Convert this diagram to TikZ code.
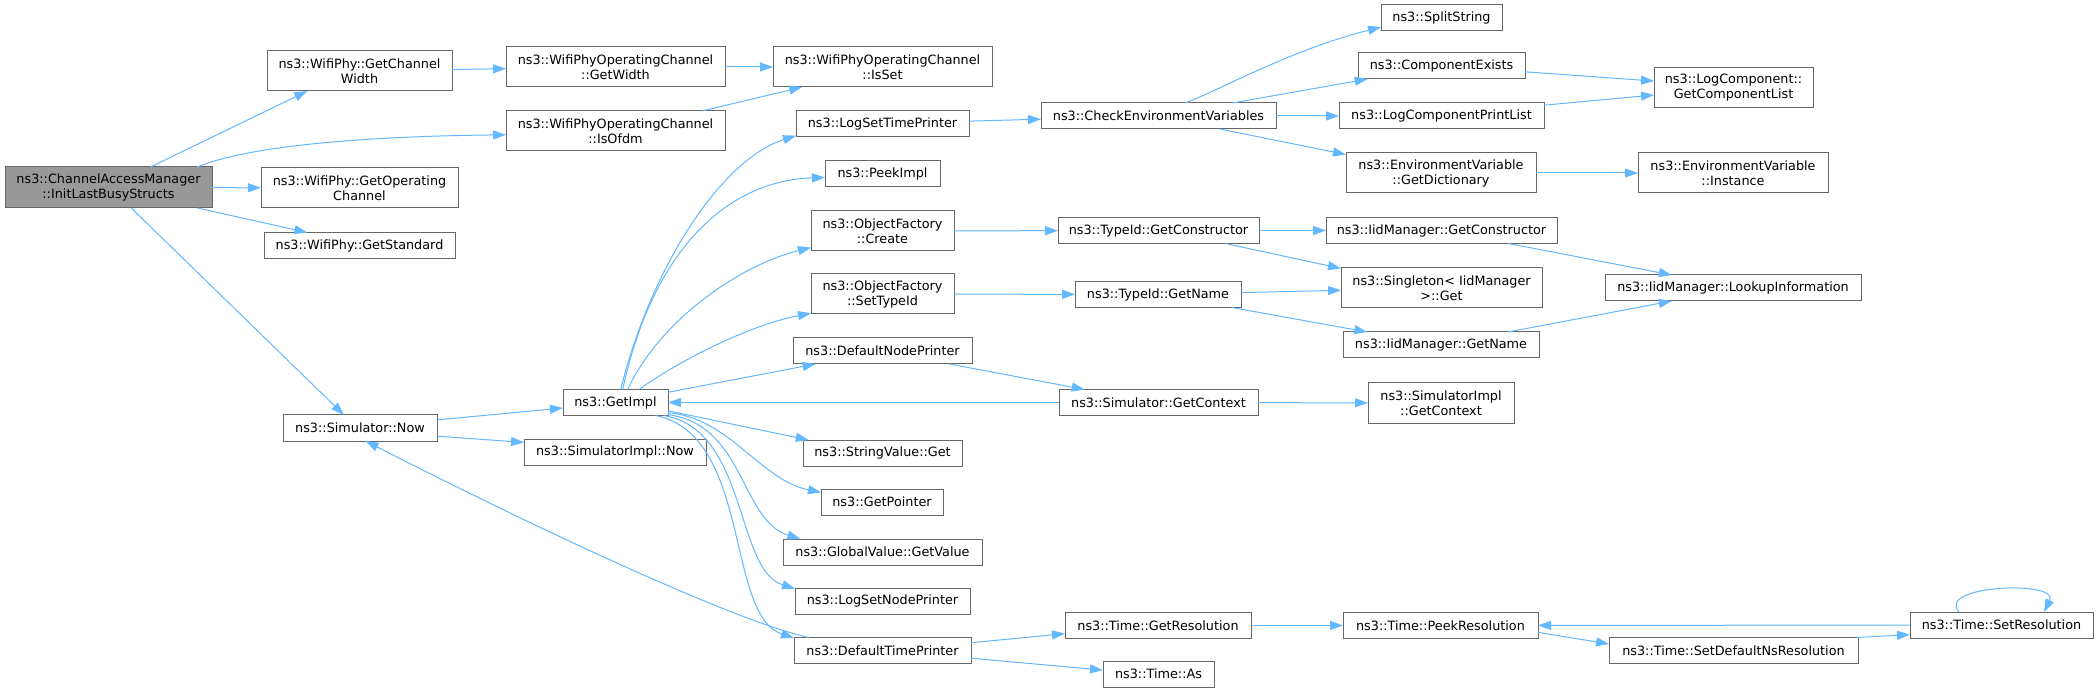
\documentclass[tikz,border=0pt]{standalone}
\usepackage{fontspec}
\setmainfont{DejaVu Sans}
\usetikzlibrary{arrows.meta}
\definecolor{callc}{HTML}{63B8FF}
\definecolor{frame}{HTML}{666666}
\definecolor{rootbg}{HTML}{999999}
\tikzset{
  fn/.style={draw=frame, fill=white, line width=1pt, inner sep=0pt, outer sep=0pt, align=center, font=\fontsize{12.8}{15}\selectfont, minimum height=26},
  fn2/.style={fn, minimum height=40},
  rootfn/.style={fn2, fill=rootbg, minimum height=41},
  call/.style={draw=callc, line width=1pt, -{Triangle[length=13pt,width=9pt]}},
}
\begin{document}
\begin{tikzpicture}[x=1pt, y=-1pt]
  \useasboundingbox[fill=white] (0,0) rectangle (2099,692);

  \node[rootfn, minimum width=207] (root) at (108.5,187.5) {ns3::ChannelAccessManager\\::InitLastBusyStructs};
  \node[fn2, minimum width=185] (chw) at (359.5,71) {ns3::WifiPhy::GetChannel\\Width};
  \node[fn2, minimum width=197] (opch) at (359.5,188) {ns3::WifiPhy::GetOperating\\Channel};
  \node[fn, minimum width=191] (std) at (359.5,245.5) {ns3::WifiPhy::GetStandard};
  \node[fn, minimum width=154] (snow) at (360,428) {ns3::Simulator::Now};
  \node[fn2, minimum width=219] (wocw) at (615.5,67) {ns3::WifiPhyOperatingChannel\\::GetWidth};
  \node[fn2, minimum width=219] (ofdm) at (615.5,131) {ns3::WifiPhyOperatingChannel\\::IsOfdm};
  \node[fn, minimum width=105] (gimpl) at (615.5,402.5) {ns3::GetImpl};
  \node[fn, minimum width=182] (sinow) at (615,452) {ns3::SimulatorImpl::Now};

  \node[fn2, minimum width=219] (isset) at (882.5,67) {ns3::WifiPhyOperatingChannel\\::IsSet};
  \node[fn, minimum width=173] (lstp) at (882.5,123.5) {ns3::LogSetTimePrinter};
  \node[fn, minimum width=115] (peek) at (882.5,173.5) {ns3::PeekImpl};
  \node[fn2, minimum width=143] (ofc) at (882.5,231) {ns3::ObjectFactory\\::Create};
  \node[fn2, minimum width=143] (ofs) at (882.5,294) {ns3::ObjectFactory\\::SetTypeId};
  \node[fn, minimum width=179] (dnp) at (882.5,351) {ns3::DefaultNodePrinter};
  \node[fn, minimum width=159] (svg) at (882.5,453) {ns3::StringValue::Get};
  \node[fn, minimum width=122] (gp) at (882,502) {ns3::GetPointer};
  \node[fn, minimum width=199] (gv) at (882.5,552) {ns3::GlobalValue::GetValue};
  \node[fn, minimum width=175] (lsnp) at (882.5,601) {ns3::LogSetNodePrinter};
  \node[fn, minimum width=177] (dtp) at (882.5,650.5) {ns3::DefaultTimePrinter};

  \node[fn, minimum width=235] (cev) at (1158.5,116) {ns3::CheckEnvironmentVariables};
  \node[fn, minimum width=201] (tgc) at (1158.5,230.5) {ns3::TypeId::GetConstructor};
  \node[fn, minimum width=166] (tgn) at (1158,294.5) {ns3::TypeId::GetName};
  \node[fn, minimum width=199] (sgc) at (1158.5,402.5) {ns3::Simulator::GetContext};
  \node[fn, minimum width=186] (tgr) at (1158,625.5) {ns3::Time::GetResolution};
  \node[fn, minimum width=111] (tas) at (1158.5,674) {ns3::Time::As};

  \node[fn, minimum width=121] (split) at (1441.5,17.5) {ns3::SplitString};
  \node[fn, minimum width=167] (cex) at (1441.5,66) {ns3::ComponentExists};
  \node[fn, minimum width=205] (lcpl) at (1441.5,116) {ns3::LogComponentPrintList};
  \node[fn2, minimum width=190] (evd) at (1441,173) {ns3::EnvironmentVariable\\::GetDictionary};
  \node[fn, minimum width=231] (igc) at (1441.5,230.5) {ns3::IidManager::GetConstructor};
  \node[fn2, minimum width=201] (sing) at (1441.5,288) {ns3::Singleton< IidManager\\>::Get};
  \node[fn, minimum width=196] (ign) at (1441,345) {ns3::IidManager::GetName};
  \node[fn2, minimum width=146] (sigc) at (1441,403) {ns3::SimulatorImpl\\::GetContext};
  \node[fn, minimum width=195] (pr) at (1440.5,625.5) {ns3::Time::PeekResolution};

  \node[fn2, minimum width=159] (lcgcl) at (1733.5,88) {ns3::LogComponent::\\GetComponentList};
  \node[fn2, minimum width=190] (evi) at (1733,173) {ns3::EnvironmentVariable\\::Instance};
  \node[fn, minimum width=256] (ili) at (1733,288) {ns3::IidManager::LookupInformation};
  \node[fn, minimum width=249] (sdns) at (1733.5,650.5) {ns3::Time::SetDefaultNsResolution};
  \node[fn, minimum width=183] (sres) at (2001.5,625) {ns3::Time::SetResolution};

  \draw[call] (root.26) -- (chw.201);
  \draw[call] (root.13) .. controls (255,143) and (390,136) .. (ofdm.182);
  \draw[call] (root) -- (opch);
  \draw[call] (root.-13) -- (std.166);
  \draw[call] (root.-42) -- (snow.141);
  \draw[call] (chw) -- (wocw);
  \draw[call] (wocw) -- (isset);
  \draw[call] (ofdm.13) -- (isset.194);
  \draw[call] (snow.6) -- (gimpl.186);
  \draw[call] (snow.-6) -- (sinow.174);

  \draw[call] (gimpl.68) .. controls (650,270) and (720,160) .. (lstp.188);
  \draw[call] (gimpl.61) .. controls (655,240) and (735,180) .. (peek.184);
  \draw[call] (gimpl.47) .. controls (660,320) and (740,265) .. (ofc.193);
  \draw[call] (gimpl.29) .. controls (680,360) and (750,325) .. (ofs.195);
  \draw[call] (gimpl.11) -- (dnp.191);
  \draw[call] (gimpl.-9) -- (svg.170);
  \draw[call] (gimpl.-11) .. controls (730,418) and (760,480) .. (gp.171);
  \draw[call] (gimpl.-13) .. controls (745,425) and (740,520) .. (gv.171);
  \draw[call] (gimpl.-15) .. controls (748,430) and (735,570) .. (lsnp.172);
  \draw[call] (gimpl.-18) .. controls (752,435) and (725,615) .. (dtp.172);
  \draw[call] (sgc) -- (gimpl);

  \draw[call] (dtp.170) .. controls (730,620) and (520,520) .. (snow.-67);
  \draw[call] (dtp.5) -- (tgr.185);
  \draw[call] (dtp.-5) -- (tas.176);
  \draw[call] (tgr) -- (pr);
  \draw[call] (pr.-4) -- (sdns.177);
  \draw[call] (sdns.6) -- (sres.186);
  \draw[call] (sres) -- (pr);
  \draw[call] (sres.163) .. controls (1935,585) and (2060,580) .. (sres.17);

  \draw[call] (lstp) -- (cev);
  \draw[call] (cev.26) .. controls (1220,90) and (1290,50) .. (split.189);
  \draw[call] (cev.10) -- (cex.190);
  \draw[call] (cev) -- (lcpl);
  \draw[call] (cev.-12) -- (evd.169);
  \draw[call] (cex.-4) -- (lcgcl.175);
  \draw[call] (lcpl.6) -- (lcgcl.185);
  \draw[call] (evd) -- (evi);

  \draw[call] (ofc) -- (tgc);
  \draw[call] (tgc) -- (igc);
  \draw[call] (tgc.-11) -- (sing.169);
  \draw[call] (ofs) -- (tgn);
  \draw[call] (tgn) -- (sing);
  \draw[call] (tgn.-10) -- (ign.170);
  \draw[call] (igc.-11) -- (ili.168);
  \draw[call] (ign.11) -- (ili.192);
  \draw[call] (dnp.-11) -- (sgc.170);
  \draw[call] (sgc) -- (sigc);
\end{tikzpicture}
\end{document}
